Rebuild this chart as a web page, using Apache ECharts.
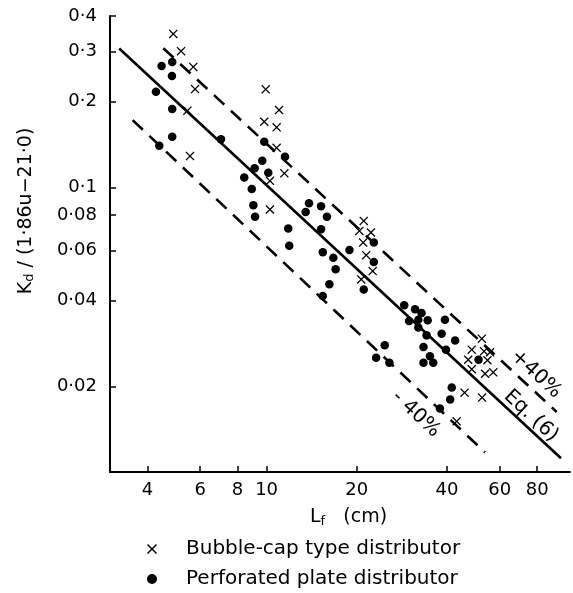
<!DOCTYPE html>
<html>
<head>
<meta charset="utf-8">
<script src="https://cdn.jsdelivr.net/npm/echarts@6/dist/echarts.min.js"></script>
<style>
html,body{margin:0;padding:0;background:#fff;}
#chart{width:573px;height:593px;}
</style>
</head>
<body>
<div id="chart"></div>
<script>
// Tick values
const xTicks = [4, 6, 8, 10, 20, 40, 60, 80];
const yTicks = [0.02, 0.04, 0.06, 0.08, 0.1, 0.2, 0.3, 0.4];

// Bubble-cap type distributor (x marks): L_f (cm), Kd/(1.86u-21.0)
const bubbleL = [4.88, 5.18, 5.69, 5.77, 5.44, 5.55, 9.93, 11.0, 9.82, 10.8, 10.8, 11.46, 10.26, 10.26,
  21.1, 20.4, 22.3, 21.0, 21.5, 22.6, 20.7,
  52.3, 48.4, 53.2, 55.7, 47.1, 54.6, 48.4, 53.6, 57.1, 45.8, 52.4, 43.1];
const bubbleK = [0.346, 0.301, 0.265, 0.2215, 0.186, 0.1288, 0.221, 0.187, 0.170, 0.1625, 0.1377, 0.112, 0.1054, 0.0836,
  0.0762, 0.0703, 0.0694, 0.064, 0.0578, 0.0508, 0.0475,
  0.0294, 0.0269, 0.02655, 0.02634, 0.0248, 0.0247, 0.02296, 0.02214, 0.0224, 0.019, 0.01826, 0.01507];

// Perforated plate distributor (dots)
const plateL = [4.46, 4.84, 4.83, 4.27, 4.84, 4.84, 4.38, 7.04, 9.82, 11.52, 9.67, 9.12, 10.13, 8.42, 8.92, 9.03, 9.15,
  11.81, 11.9, 13.85, 13.5, 15.2, 15.9, 15.2, 18.9, 15.4, 16.7, 17.0, 16.2, 15.4, 21.1, 22.8, 22.8,
  24.8, 23.2, 25.7, 28.8, 31.3, 32.9, 29.9, 32.1, 34.5, 39.4, 32.1, 34.2, 38.4, 42.6, 33.4, 39.7, 35.1, 33.4, 36.0,
  41.5, 41.0, 37.9, 51.0];
const plateK = [0.267, 0.2757, 0.246, 0.2168, 0.1884, 0.1505, 0.140, 0.1477, 0.1446, 0.128, 0.124, 0.1168, 0.1125, 0.1083, 0.0986, 0.0866, 0.0788,
  0.0717, 0.0623, 0.0880, 0.082, 0.0859, 0.0788, 0.0713, 0.0602, 0.0592, 0.0566, 0.0516, 0.0457, 0.0415, 0.0438, 0.064, 0.0547,
  0.0279, 0.0252, 0.0242, 0.0385, 0.0373, 0.0362, 0.0339, 0.0343, 0.0341, 0.0343, 0.0322, 0.0302, 0.0306, 0.029, 0.0275, 0.0269, 0.0255, 0.0242, 0.0242,
  0.0198, 0.01796, 0.0167, 0.0248];

// Correlation line Eq. (6) and the +/-40% bands (end points)
const eqL = [3.22, 96.1];
const eqK = [0.3075, 0.01117];
const upperL = [4.52, 93.0];
const upperK = [0.308, 0.01625];
const lowerL = [3.57, 53.6];
const lowerK = [0.1723, 0.01172];

const zip = (a, b) => a.map((v, i) => [v, b[i]]);
const crossPath = 'path://M0,1L1,0L5,4L9,0L10,1L6,5L10,9L9,10L5,6L1,10L0,9L4,5Z';
const FONT = 'DejaVu Sans';
const legendText = {color: '#000', fontFamily: FONT, fontSize: 20, padding: [0, 0, 0, 24]};

const chart = echarts.init(document.getElementById('chart'), null, {renderer: 'canvas'});
chart.setOption({
  animation: false,
  backgroundColor: '#fff',
  grid: {left: 110, right: 3, top: 16, bottom: 121, containLabel: false},
  xAxis: {
    type: 'log', logBase: 10, min: 3, max: 103,
    axisLine: {lineStyle: {color: '#000', width: 2}},
    axisTick: {inside: true, length: 6, lineStyle: {color: '#000', width: 1.5}, customValues: xTicks},
    axisLabel: {customValues: xTicks, color: '#000', fontFamily: FONT, fontSize: 18, margin: 9,
      formatter: v => String(v)},
    splitLine: {show: false},
    minorTick: {show: false}
  },
  yAxis: {
    type: 'log', logBase: 10, min: 0.01, max: 0.4,
    axisLine: {lineStyle: {color: '#000', width: 2}},
    axisTick: {inside: true, length: 6, lineStyle: {color: '#000', width: 1.5}, customValues: yTicks},
    axisLabel: {customValues: yTicks, color: '#000', fontFamily: FONT, fontSize: 18, margin: 13,
      formatter: v => String(+v.toFixed(3)).replace('.', '·')},
    splitLine: {show: false},
    minorTick: {show: false}
  },
  legend: [
    {left: 142, top: 534, itemWidth: 10, itemHeight: 10, textStyle: legendText,
      data: [{name: 'Bubble-cap type distributor', icon: crossPath}]},
    {left: 142, top: 564, itemWidth: 10, itemHeight: 10, textStyle: legendText,
      data: [{name: 'Perforated plate distributor', icon: 'circle'}]}
  ],
  series: [
    {type: 'line', name: 'Eq. (6)', data: zip(eqL, eqK), showSymbol: false, silent: true, z: 1,
      lineStyle: {color: '#000', width: 2.6}},
    {type: 'line', name: '+40%', data: zip(upperL, upperK), showSymbol: false, silent: true, z: 1,
      lineStyle: {color: '#000', width: 2.6, type: [14, 9]}},
    {type: 'line', name: '-40%', data: zip(lowerL, lowerK), showSymbol: false, silent: true, z: 1,
      lineStyle: {color: '#000', width: 2.6, type: [14, 9]}},
    {type: 'scatter', name: 'Bubble-cap type distributor', data: zip(bubbleL, bubbleK), z: 3,
      symbol: crossPath, symbolSize: 9, itemStyle: {color: '#000', opacity: 1}},
    {type: 'scatter', name: 'Perforated plate distributor', data: zip(plateL, plateK), z: 3,
      symbol: 'circle', symbolSize: 8.5, itemStyle: {color: '#000', opacity: 1}}
  ],
  graphic: [
    {type: 'text', x: 26, y: 211, rotation: Math.PI / 2,
      style: {text: '{a|K}{s|d}{a| / (1·86u−21·0)}', align: 'center', verticalAlign: 'middle',
        rich: {a: {fontFamily: FONT, fontSize: 19, fill: '#000'},
               s: {fontFamily: FONT, fontSize: 13, fill: '#000', padding: [8, 0, 0, 0]}}}},
    {type: 'text', x: 310, y: 517,
      style: {text: '{a|L}{s|f}{a|   (cm)}', align: 'left', verticalAlign: 'middle',
        rich: {a: {fontFamily: FONT, fontSize: 19, fill: '#000'},
               s: {fontFamily: FONT, fontSize: 13, fill: '#000', padding: [10, 0, 0, 0]}}}},
    {type: 'text', x: 536, y: 374, rotation: -0.75,
      style: {text: '+40%', align: 'center', verticalAlign: 'middle', fontFamily: FONT, fontSize: 20, fill: '#000'}},
    {type: 'text', x: 531, y: 416, rotation: -0.75,
      style: {text: 'Eq. (6)', align: 'center', verticalAlign: 'middle', fontFamily: FONT, fontSize: 20, fill: '#000'}},
    {type: 'text', x: 416, y: 414, rotation: -0.75,
      style: {text: '- 40%', align: 'center', verticalAlign: 'middle', fontFamily: FONT, fontSize: 20, fill: '#000'}}
  ]
});
</script>
</body>
</html>
